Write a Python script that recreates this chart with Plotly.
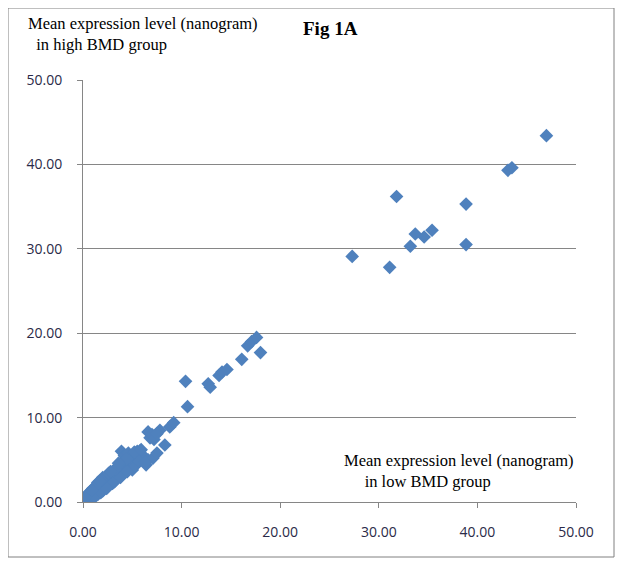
import plotly.graph_objects as go

# Mean expression level (nanogram): low BMD group (x) vs high BMD group (y)
low_bmd = [
    0.05, 0.10, 0.15, 0.20, 0.25, 0.30, 0.35, 0.40, 0.45, 0.50, 0.55, 0.60, 0.65, 0.70, 0.75,
    0.80, 0.85, 0.90, 0.95, 1.00, 1.05, 1.10, 1.15, 1.20, 1.25, 1.30, 1.35, 1.40, 1.45, 1.50,
    1.55, 1.60, 1.65, 1.70, 1.75, 1.80, 1.85, 1.90, 1.95, 2.00, 2.05, 2.10, 2.20, 2.30, 2.40,
    2.50, 2.60, 2.70, 2.80, 2.90, 3.00, 3.10, 3.20, 3.30, 3.40, 3.50, 3.60, 3.70, 3.80, 3.90,
    4.00, 4.10, 4.20, 4.30, 4.40, 4.50, 4.60, 4.70, 4.80, 4.90, 5.00, 5.10, 5.20, 5.30, 5.40,
    5.50, 5.60, 5.80, 6.00, 6.20, 5.00, 4.50, 3.90, 4.20, 4.60, 5.30, 5.70, 6.40, 6.60, 7.10,
    7.50, 6.60, 6.80, 7.00, 7.20, 7.80, 7.50, 1.00, 1.50, 2.00, 2.50, 3.00, 0.50, 1.00, 1.50,
    2.00, 2.50, 3.50, 4.00, 1.20, 1.80, 2.40, 3.20, 3.80, 0.70, 1.30, 1.90, 2.60, 3.30, 0.30,
    0.90, 1.70, 2.80, 4.40, 5.20, 5.90, 6.30, 3.60,
    8.30, 8.80, 9.20, 10.40, 10.60, 12.70, 12.90, 13.80, 14.10, 14.60,
    16.10, 16.70, 17.10, 17.60, 18.00, 27.30, 31.10, 31.80, 33.20, 33.70, 34.60, 35.40, 38.85,
    38.85, 43.10, 43.50, 47.00,
]
high_bmd = [
    0.05, 0.15, 0.10, 0.25, 0.20, 0.35, 0.30, 0.45, 0.40, 0.60, 0.45, 0.70, 0.55, 0.80, 0.65,
    0.90, 0.75, 1.00, 0.85, 1.15, 0.90, 1.25, 1.00, 1.40, 1.10, 1.50, 1.20, 1.60, 1.30, 1.75,
    1.40, 1.90, 1.50, 2.00, 1.60, 2.20, 1.70, 2.30, 1.80, 2.50, 1.90, 2.60, 2.00, 2.70, 2.20,
    2.80, 2.30, 3.00, 2.50, 3.10, 2.60, 3.30, 2.80, 3.50, 3.00, 3.70, 3.20, 3.90, 3.40, 4.10,
    3.60, 4.40, 3.80, 4.70, 4.00, 4.90, 4.30, 5.20, 4.50, 5.40, 4.70, 5.60, 4.90, 5.80, 5.20,
    6.00, 5.50, 6.10, 5.60, 5.30, 3.80, 3.60, 6.00, 5.50, 5.80, 4.30, 4.80, 4.40, 5.00, 5.20,
    5.80, 8.30, 7.60, 8.00, 7.40, 8.50, 8.10, 0.50, 0.90, 1.30, 1.80, 2.20, 1.00, 1.60, 2.30,
    2.90, 3.20, 4.20, 4.80, 0.60, 1.10, 1.60, 2.40, 2.90, 1.20, 1.90, 2.60, 3.40, 3.90, 0.60,
    1.40, 2.50, 3.60, 5.10, 5.90, 6.20, 4.70, 4.60,
    6.75, 8.90, 9.40, 14.30, 11.30, 14.00, 13.60, 15.00, 15.40, 15.70,
    16.90, 18.50, 19.00, 19.50, 17.70, 29.10, 27.80, 36.20, 30.30, 31.75, 31.40, 32.20, 35.30,
    30.50, 39.30, 39.60, 43.40,
]

tick_vals = [0, 10, 20, 30, 40, 50]
tick_text = ["0.00", "10.00", "20.00", "30.00", "40.00", "50.00"]

fig = go.Figure()
fig.add_trace(go.Scatter(
    x=low_bmd, y=high_bmd, mode="markers",
    marker=dict(symbol="diamond", size=10.5, color="#4F81BD", line=dict(width=0)),
    showlegend=False, hoverinfo="x+y",
))

axis_font = dict(family="Open Sans, Liberation Sans, Arial, sans-serif", size=14, color="#2a2a48")
serif = "Liberation Serif, Times New Roman, serif"

# page has an 8px body margin; figure coordinates are page coordinates minus 8
W, H = 616, 558
L, R, T, B = 75, 48, 72, 64
PW, PH = W - L - R, H - T - B

def px(xp):
    return (xp - 8 - L) / PW

def py(yp):
    return (H - B - (yp - 8)) / PH

fig.update_layout(
    width=W, height=H,
    margin=dict(l=L, r=R, t=T, b=B),
    paper_bgcolor="white", plot_bgcolor="white",
    xaxis=dict(
        range=[0, 50], tickvals=tick_vals, ticktext=tick_text,
        showgrid=False, zeroline=False,
        showline=True, linecolor="#868686", linewidth=1,
        ticks="outside", ticklen=5, tickcolor="#868686",
        tickfont=axis_font, ticklabelstandoff=12,
    ),
    yaxis=dict(
        range=[0, 50], tickvals=tick_vals, ticktext=tick_text,
        showgrid=True, gridcolor="#868686", gridwidth=1, zeroline=False,
        showline=True, linecolor="#868686", linewidth=1,
        ticks="outside", ticklen=5, tickcolor="#868686",
        tickfont=axis_font, ticklabelstandoff=12,
    ),
    shapes=[dict(
        type="rect", xref="paper", yref="paper",
        x0=px(8), x1=px(614), y0=py(557), y1=py(8),
        line=dict(color="#808080", width=1), fillcolor="rgba(0,0,0,0)", layer="below",
    )],
    annotations=[
        dict(text="Mean expression level (nanogram)<br>  in high BMD group",
             xref="paper", yref="paper", x=px(26), y=py(12),
             xanchor="left", yanchor="top", align="left", showarrow=False,
             font=dict(family=serif, size=16.5, color="black")),
        dict(text="<b>Fig 1A</b>",
             xref="paper", yref="paper", x=px(330), y=py(16),
             xanchor="center", yanchor="top", showarrow=False,
             font=dict(family=serif, size=19, color="black")),
        dict(text="Mean expression level (nanogram)<br>     in low BMD group",
             xref="paper", yref="paper", x=px(342), y=py(449),
             xanchor="left", yanchor="top", align="left", showarrow=False,
             font=dict(family=serif, size=16.5, color="black")),
    ],
)

fig.write_html("out.html")
